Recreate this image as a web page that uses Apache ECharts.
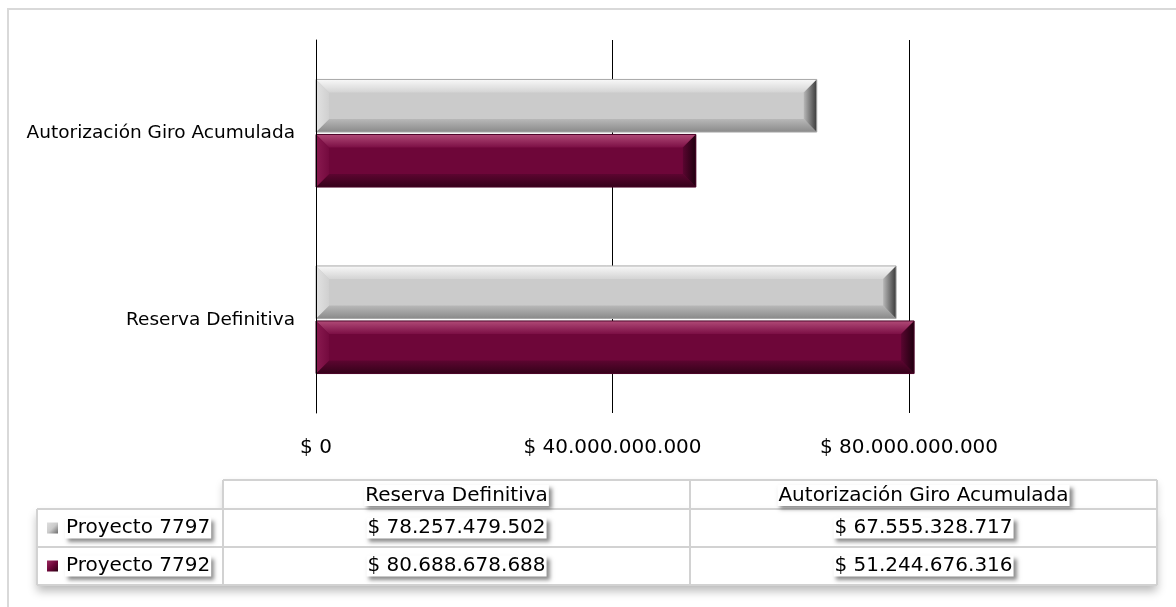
<!DOCTYPE html>
<html>
<head>
<meta charset="utf-8">
<script src="https://cdn.jsdelivr.net/npm/echarts@6/dist/echarts.min.js"></script>
<style>
html,body{margin:0;padding:0;background:#fff;}
#chart{width:1176px;height:607px;}
</style>
</head>
<body>
<div id="chart"></div>
<script>
// ---- data ----
const categories = ['Reserva Definitiva', 'Autorización Giro Acumulada'];
const seriesNames = ['Proyecto 7797', 'Proyecto 7792'];
const proyecto7797 = [78257479502, 67555328717];
const proyecto7792 = [80688678688, 51244676316];
const xTickValues = [0, 40000000000, 80000000000];

// ---- helpers ----
const FONT = '"DejaVu Sans", Verdana, sans-serif';
function money(v) {
  return '$ ' + String(Math.round(v)).replace(/\B(?=(\d{3})+(?!\d))/g, '.');
}
const G = echarts.graphic;
function vgrad(a, b) { return new G.LinearGradient(0, 0, 0, 1, [{offset:0,color:a},{offset:1,color:b}]); }
function hgrad(a, b) { return new G.LinearGradient(0, 0, 1, 0, [{offset:0,color:a},{offset:1,color:b}]); }

const palettes = [
  { // gray
    main: '#cbcbcb', top: ['#f8f8f8', '#d4d4d4'], bottom: ['#b8b8b8', '#8a8a8a'],
    right: ['#b8b8b8', '#3a3a3a'], left: ['#e2e2e2', '#d0d0d0'], edge: '#a8a8a8'
  },
  { // maroon
    main: '#6e0639', top: ['#b04a77', '#7c0f45'], bottom: ['#5c0530', '#35021a'],
    right: ['#5a0530', '#1f000f'], left: ['#8a1a50', '#740a3e'], edge: '#4a0326'
  }
];

const BAR_FRAC = 0.282;
const OFFSETS = [-0.1475, 0.1475]; // gray above maroon within each category

function makeRender(pal, offFrac) {
  return function (params, api) {
    const v = api.value(0), ci = api.value(1);
    const p0 = api.coord([0, ci]);
    const p1 = api.coord([v, ci]);
    const band = api.size([0, 1])[1];
    const h = band * BAR_FRAC;
    const cy = p0[1] + band * offFrac;
    const x0 = p0[0], x1 = p1[0], y0 = cy - h / 2, y1 = cy + h / 2;
    const b = 13;
    return {
      type: 'group',
      children: [
        { type: 'rect', shape: { x: x0, y: y0, width: x1 - x0, height: h }, style: { fill: pal.main } },
        { type: 'polygon', shape: { points: [[x0, y0], [x1, y0], [x1 - b, y0 + b], [x0 + b, y0 + b]] }, style: { fill: vgrad(pal.top[0], pal.top[1]) } },
        { type: 'polygon', shape: { points: [[x0 + b, y1 - b], [x1 - b, y1 - b], [x1, y1], [x0, y1]] }, style: { fill: vgrad(pal.bottom[0], pal.bottom[1]) } },
        { type: 'polygon', shape: { points: [[x0, y0], [x0 + b, y0 + b], [x0 + b, y1 - b], [x0, y1]] }, style: { fill: hgrad(pal.left[0], pal.left[1]) } },
        { type: 'polygon', shape: { points: [[x1 - b, y0 + b], [x1, y0], [x1, y1], [x1 - b, y1 - b]] }, style: { fill: hgrad(pal.right[0], pal.right[1]) } },
        { type: 'rect', shape: { x: x0, y: y0, width: x1 - x0, height: h }, style: { fill: 'none', stroke: pal.edge, lineWidth: 1 } }
      ]
    };
  };
}

// ---- table graphics ----
const T = { left: 37, colLeft: 223, right: 1157, headTop: 480, rowTops: [509, 547], bottom: 585 };
const lineColor = '#d2d2d2';
const boxText = {
  fill: '#000', backgroundColor: '#fff', padding: [1, 1, 0, 1],
  shadowColor: 'rgba(0,0,0,0.45)', shadowBlur: 4, shadowOffsetX: 3, shadowOffsetY: 3,
  font: '20px ' + FONT
};
const graphics = [];
// outer frame
graphics.push({ type: 'rect', shape: { x: 8, y: 9, width: 1300, height: 700 }, style: { fill: 'none', stroke: '#d9d9d9', lineWidth: 2 }, z: -10 });
// table backgrounds with shadow
graphics.push({ type: 'rect', shape: { x: T.colLeft, y: T.headTop, width: T.right - T.colLeft, height: T.rowTops[0] - T.headTop },
  style: { fill: '#fff', shadowColor: 'rgba(0,0,0,0.18)', shadowBlur: 8, shadowOffsetY: 4 }, z: 1 });
graphics.push({ type: 'rect', shape: { x: T.left, y: T.rowTops[0], width: T.right - T.left, height: T.bottom - T.rowTops[0] },
  style: { fill: '#fff', shadowColor: 'rgba(0,0,0,0.28)', shadowBlur: 9, shadowOffsetY: 6 }, z: 2 });
function line(x1, y1, x2, y2) {
  graphics.push({ type: 'line', shape: { x1, y1, x2, y2 }, style: { stroke: lineColor, lineWidth: 2 }, z: 3 });
}
const colW = (T.right - T.colLeft) / categories.length;
// horizontal lines
line(T.colLeft, T.headTop, T.right, T.headTop);
line(T.left, T.rowTops[0], T.right, T.rowTops[0]);
line(T.left, T.rowTops[1], T.right, T.rowTops[1]);
line(T.left, T.bottom, T.right, T.bottom);
// vertical lines
line(T.left, T.rowTops[0], T.left, T.bottom);
for (let i = 0; i <= categories.length; i++) {
  line(T.colLeft + i * colW, T.headTop, T.colLeft + i * colW, T.bottom);
}
// header texts
categories.forEach((c, i) => {
  graphics.push({ type: 'text', z: 5, style: Object.assign({}, boxText, {
    text: c, x: T.colLeft + (i + 0.5) * colW, y: (T.headTop + T.rowTops[0]) / 2 + 1, align: 'center', verticalAlign: 'middle' }) });
});
// rows
const rowData = [proyecto7797, proyecto7792];
const rowBottoms = [T.rowTops[1], T.bottom];
rowData.forEach((vals, r) => {
  const cy = (T.rowTops[r] + rowBottoms[r]) / 2;
  const pal = palettes[r];
  graphics.push({ type: 'rect', z: 5, shape: { x: 47, y: cy - 5.5, width: 11, height: 11 },
    style: { fill: new G.LinearGradient(0, 0, 1, 1, [{offset:0,color: r === 0 ? '#dedede' : '#9a2a5e'},{offset:0.5,color: pal.main},{offset:1,color: r === 0 ? '#6a6a6a' : '#2a0012'}]) } });
  graphics.push({ type: 'text', z: 5, style: Object.assign({}, boxText, {
    text: seriesNames[r], x: 65, y: cy, align: 'left', verticalAlign: 'middle' }) });
  vals.forEach((v, i) => {
    graphics.push({ type: 'text', z: 5, style: Object.assign({}, boxText, {
      text: money(v), x: T.colLeft + (i + 0.5) * colW, y: cy, align: 'center', verticalAlign: 'middle' }) });
  });
});

const chart = echarts.init(document.getElementById('chart'), null, { renderer: 'canvas' });
const option = {
  backgroundColor: '#fff',
  animation: false,
  textStyle: { fontFamily: FONT },
  grid: { left: 316, top: 40, bottom: 194, right: 118.75, containLabel: false },
  xAxis: {
    type: 'value', min: xTickValues[0], max: 100000000000, interval: xTickValues[1] - xTickValues[0],
    axisLine: { show: false }, axisTick: { show: false },
    splitLine: { show: true, showMinLine: true, showMaxLine: false, lineStyle: { color: '#000', width: 1 } },
    axisLabel: { formatter: v => money(v), fontSize: 20, color: '#000', margin: 25, showMaxLabel: false, fontFamily: FONT }
  },
  yAxis: {
    type: 'category', data: categories, z: 5,
    axisLine: { show: true, lineStyle: { color: '#000', width: 1 } },
    axisTick: { show: false },
    axisLabel: { fontSize: 18.5, color: '#000', margin: 21, fontFamily: FONT, padding: [4, 0, 0, 0] }
  },
  series: [
    { type: 'custom', name: seriesNames[0], renderItem: makeRender(palettes[0], OFFSETS[0]),
      encode: { x: 0, y: 1 }, data: proyecto7797.map((v, i) => [v, i]) },
    { type: 'custom', name: seriesNames[1], renderItem: makeRender(palettes[1], OFFSETS[1]),
      encode: { x: 0, y: 1 }, data: proyecto7792.map((v, i) => [v, i]) }
  ],
  graphic: graphics
};
chart.setOption(option);
</script>
</body>
</html>
